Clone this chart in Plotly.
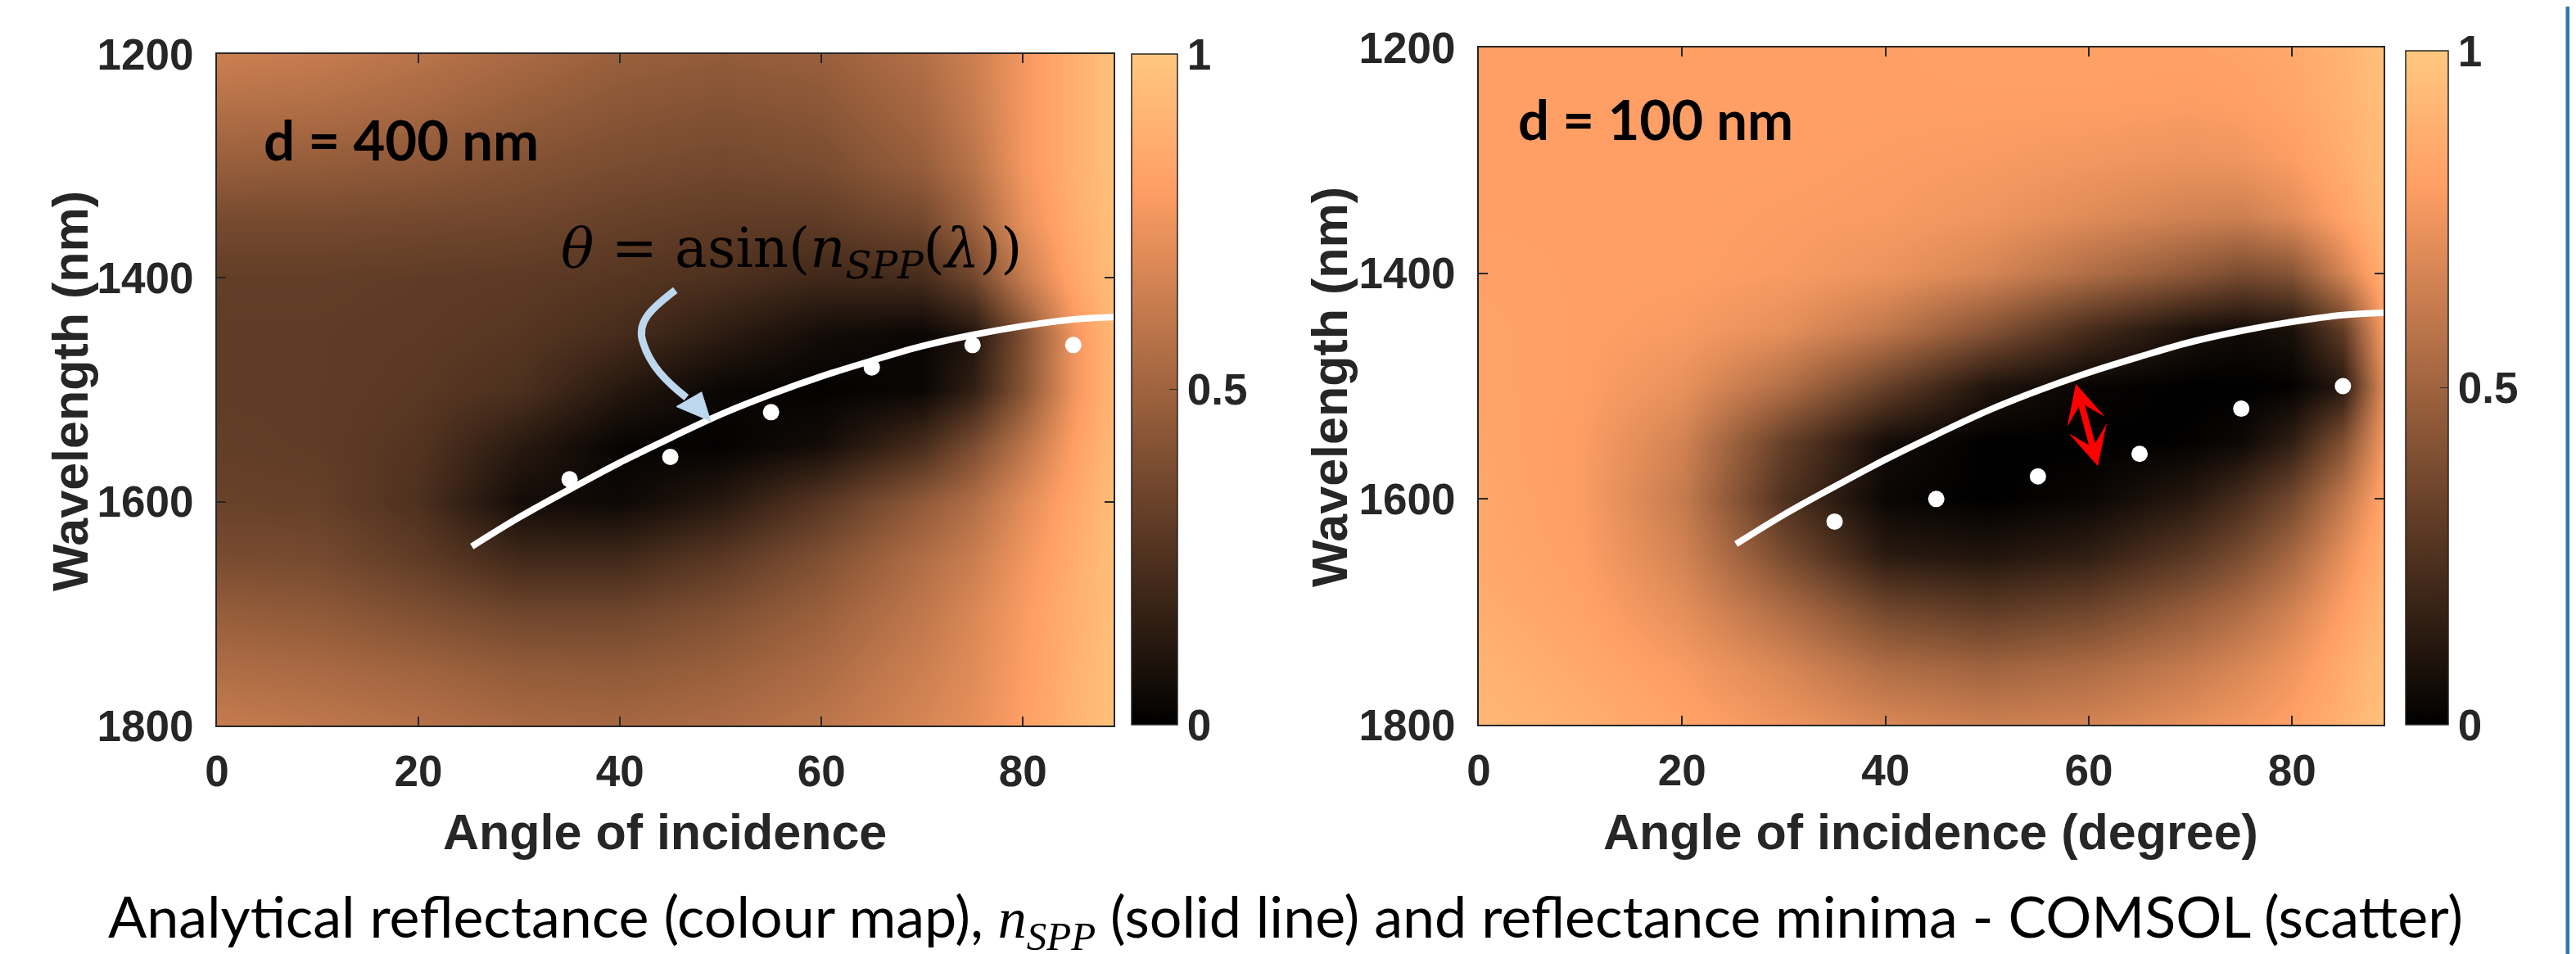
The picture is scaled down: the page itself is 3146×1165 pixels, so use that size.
import plotly.graph_objects as go

W, H = 3146, 1165

# ---------------- data ----------------
angle_grid = [0, 10, 20, 30, 40, 50, 60, 70, 75, 80, 85, 89]
wl_grid = [1200, 1250, 1300, 1350, 1400, 1450, 1500, 1550, 1600, 1650, 1700, 1750, 1800]

# analytical reflectance, d = 400 nm (rows: wavelength, cols: angle)
refl_400 = [
    [0.64, 0.62, 0.58, 0.53, 0.48, 0.46, 0.48, 0.56, 0.64, 0.76, 0.88, 0.97],
    [0.56, 0.55, 0.52, 0.47, 0.43, 0.41, 0.43, 0.52, 0.62, 0.76, 0.88, 0.97],
    [0.47, 0.46, 0.44, 0.41, 0.38, 0.36, 0.38, 0.47, 0.58, 0.76, 0.88, 0.97],
    [0.37, 0.37, 0.36, 0.35, 0.32, 0.30, 0.30, 0.36, 0.50, 0.72, 0.87, 0.96],
    [0.31, 0.31, 0.30, 0.29, 0.27, 0.24, 0.20, 0.22, 0.35, 0.62, 0.84, 0.95],
    [0.30, 0.30, 0.29, 0.27, 0.22, 0.14, 0.06, 0.03, 0.10, 0.40, 0.75, 0.93],
    [0.30, 0.30, 0.28, 0.24, 0.12, 0.03, 0.01, 0.03, 0.15, 0.42, 0.75, 0.92],
    [0.31, 0.30, 0.26, 0.13, 0.02, 0.01, 0.06, 0.22, 0.38, 0.58, 0.80, 0.93],
    [0.33, 0.32, 0.24, 0.06, 0.04, 0.12, 0.27, 0.45, 0.55, 0.70, 0.84, 0.95],
    [0.38, 0.37, 0.30, 0.20, 0.20, 0.28, 0.40, 0.55, 0.63, 0.75, 0.87, 0.96],
    [0.47, 0.45, 0.40, 0.35, 0.35, 0.40, 0.48, 0.60, 0.68, 0.78, 0.88, 0.96],
    [0.55, 0.53, 0.50, 0.46, 0.45, 0.48, 0.54, 0.64, 0.70, 0.79, 0.89, 0.97],
    [0.62, 0.60, 0.57, 0.53, 0.52, 0.54, 0.59, 0.67, 0.72, 0.80, 0.90, 0.97],
]

# analytical reflectance, d = 100 nm
refl_100 = [
    [0.80, 0.80, 0.80, 0.80, 0.80, 0.81, 0.81, 0.81, 0.82, 0.85, 0.90, 0.97],
    [0.80, 0.80, 0.80, 0.80, 0.80, 0.80, 0.80, 0.79, 0.80, 0.83, 0.89, 0.96],
    [0.80, 0.80, 0.80, 0.80, 0.79, 0.78, 0.76, 0.74, 0.75, 0.79, 0.87, 0.95],
    [0.80, 0.80, 0.80, 0.79, 0.78, 0.75, 0.70, 0.65, 0.64, 0.70, 0.82, 0.93],
    [0.81, 0.80, 0.80, 0.78, 0.74, 0.67, 0.55, 0.44, 0.38, 0.42, 0.66, 0.88],
    [0.82, 0.80, 0.78, 0.72, 0.60, 0.42, 0.22, 0.08, 0.05, 0.08, 0.30, 0.78],
    [0.82, 0.80, 0.73, 0.56, 0.32, 0.10, 0.02, 0.00, 0.00, 0.01, 0.12, 0.70],
    [0.83, 0.79, 0.66, 0.32, 0.06, 0.00, 0.00, 0.01, 0.04, 0.15, 0.40, 0.76],
    [0.84, 0.79, 0.62, 0.25, 0.03, 0.00, 0.03, 0.12, 0.22, 0.36, 0.60, 0.83],
    [0.85, 0.80, 0.66, 0.38, 0.13, 0.10, 0.15, 0.28, 0.38, 0.52, 0.72, 0.88],
    [0.87, 0.82, 0.72, 0.55, 0.36, 0.30, 0.35, 0.47, 0.55, 0.66, 0.80, 0.92],
    [0.90, 0.85, 0.78, 0.68, 0.55, 0.50, 0.54, 0.62, 0.68, 0.75, 0.86, 0.95],
    [0.92, 0.88, 0.82, 0.75, 0.68, 0.64, 0.66, 0.72, 0.76, 0.81, 0.89, 0.97],
]

# n_SPP curve: theta = asin(n_SPP(lambda))
nspp_angle = [25.3, 30, 35, 40, 45, 50, 55, 60, 65, 70, 75, 80, 85, 89]
nspp_wl = [1640, 1614, 1589, 1565, 1543, 1522, 1504, 1488, 1474, 1461, 1451, 1443, 1437, 1435]

# COMSOL reflectance minima
comsol_angle = [35, 45, 55, 65, 75, 85]
comsol_wl_400 = [1580, 1560, 1520, 1480, 1460, 1460]
comsol_wl_100 = [1620, 1600, 1580, 1560, 1520, 1500]

x_ticks = [0, 20, 40, 60, 80]
y_ticks = [1200, 1400, 1600, 1800]
cbar_ticks = [0, 0.5, 1]
cbar_labels = ["0", "0.5", "1"]

# ---------------- styling ----------------
copper = [[0.0, "rgb(0,0,0)"], [0.8, "rgb(255,159,101)"], [1.0, "rgb(255,199,127)"]]
INK = "#262626"
AX_FONT = dict(family="Liberation Sans, Arial", size=53, color=INK, weight="bold")
TITLE_FONT = dict(family="Liberation Sans, Arial", size=61, color=INK, weight="bold")


def px_dom(a, b, total):
    return [a / total, b / total]


def ydom(top, bottom):
    return [1 - bottom / H, 1 - top / H]


fig = go.Figure()

panels = [
    dict(z=refl_400, wl=comsol_wl_400, xa="x", ya="y",
         xdom=px_dom(257, 1352, W), ydom=ydom(58, 878),
         cb_x=1374 / W, cb_th=56, cb_top=58),
    dict(z=refl_100, wl=comsol_wl_100, xa="x2", ya="y2",
         xdom=px_dom(1798, 2903, W), ydom=ydom(50, 877),
         cb_x=2930 / W, cb_th=52, cb_top=54),
]

for p in panels:
    fig.add_trace(go.Heatmap(
        x=angle_grid, y=wl_grid, z=p["z"], zmin=0, zmax=1,
        colorscale=copper, zsmooth="best", xaxis=p["xa"], yaxis=p["ya"],
        colorbar=dict(
            x=p["cb_x"], xanchor="left", y=1 - 877 / H, yanchor="bottom",
            len=(877 - p["cb_top"]) / H, lenmode="fraction",
            thickness=p["cb_th"], thicknessmode="pixels",
            outlinecolor=INK, outlinewidth=1.5, xpad=0, ypad=0,
            tickvals=cbar_ticks, ticktext=cbar_labels, ticks="inside",
            ticklen=10, tickcolor=INK, tickfont=AX_FONT,
        ),
        hoverinfo="skip",
    ))
    fig.add_trace(go.Scatter(
        x=nspp_angle, y=nspp_wl, mode="lines",
        line=dict(color="white", width=8, shape="spline"),
        xaxis=p["xa"], yaxis=p["ya"], showlegend=False, hoverinfo="skip",
    ))
    fig.add_trace(go.Scatter(
        x=comsol_angle, y=p["wl"], mode="markers",
        marker=dict(color="white", size=20, line=dict(width=0)),
        xaxis=p["xa"], yaxis=p["ya"], showlegend=False, hoverinfo="skip",
    ))

axis_common = dict(
    showline=True, linecolor=INK, linewidth=2, mirror="ticks",
    ticks="inside", ticklen=11, tickwidth=2, tickcolor=INK,
    tickfont=AX_FONT, showgrid=False, zeroline=False, automargin=False,
)

fig.update_layout(
    width=W, height=H, margin=dict(l=0, r=0, t=0, b=0, autoexpand=False),
    paper_bgcolor="white", plot_bgcolor="white", showlegend=False,
    xaxis=dict(domain=panels[0]["xdom"], anchor="y", range=[0, 89],
               tickvals=x_ticks, ticklabelstandoff=8, **axis_common),
    yaxis=dict(domain=panels[0]["ydom"], anchor="x", range=[1800, 1200],
               tickvals=y_ticks, ticklabelstandoff=16, **axis_common),
    xaxis2=dict(domain=panels[1]["xdom"], anchor="y2", range=[0, 89],
                tickvals=x_ticks, ticklabelstandoff=8, **axis_common),
    yaxis2=dict(domain=panels[1]["ydom"], anchor="x2", range=[1800, 1200],
                tickvals=y_ticks, ticklabelstandoff=16, **axis_common),
)

annotations = [
    # axis titles
    dict(text="Angle of incidence", x=804 / W, y=1 - 1008 / H, xref="paper", yref="paper",
         showarrow=False, font=TITLE_FONT, xanchor="center", yanchor="middle"),
    dict(text="Angle of incidence (degree)", x=2350 / W, y=1 - 1008 / H, xref="paper", yref="paper",
         showarrow=False, font=TITLE_FONT, xanchor="center", yanchor="middle"),
    dict(text="Wavelength (nm)", x=78 / W, y=1 - 470 / H, xref="paper", yref="paper",
         showarrow=False, font=TITLE_FONT, textangle=-90, xanchor="center", yanchor="middle"),
    dict(text="Wavelength (nm)", x=1616 / W, y=1 - 464 / H, xref="paper", yref="paper",
         showarrow=False, font=TITLE_FONT, textangle=-90, xanchor="center", yanchor="middle"),
    # panel labels
    dict(text="d = 400 nm", x=4.5, y=1276, xref="x", yref="y", showarrow=False,
         xanchor="left", yanchor="middle",
         font=dict(family="Lato", size=67, color="black", weight="bold")),
    dict(text="d = 100 nm", x=3.7, y=1263, xref="x2", yref="y2", showarrow=False,
         xanchor="left", yanchor="middle",
         font=dict(family="Lato", size=67, color="black", weight="bold")),
    # equation
    dict(text="<i>θ</i> = asin(<i>n</i><sub><i>SPP</i></sub>(<i>λ</i>))",
         x=34.0, y=1377, xref="x", yref="y", showarrow=False,
         xanchor="left", yanchor="middle",
         font=dict(family="DejaVu Serif", size=67, color="black")),
    # red double arrow
    dict(x=60.9, y=1571, ax=58.7, ay=1497, xref="x2", yref="y2", axref="x2", ayref="y2",
         showarrow=True, arrowhead=3, startarrowhead=3, arrowside="end+start",
         arrowsize=1.0, startarrowsize=1.0, arrowwidth=8, arrowcolor="#FF0000", text=""),
    # caption
    dict(text="Analytical reflectance (colour map), "
              "<span style='font-family:Liberation Serif'><i>n</i><sub><i>SPP</i></sub></span>"
              " (solid line) and reflectance minima - COMSOL (scatter)",
         x=1562 / W, y=1 - 1115 / H, xref="paper", yref="paper", showarrow=False,
         xanchor="center", yanchor="middle",
         font=dict(family="Lato", size=70, color="black")),
]
fig.update_layout(annotations=annotations)

# light-blue curved pointer arrow (decoration) in data coordinates of panel 1
fig.add_shape(type="path", xref="x", yref="y",
              path="M 45.5,1411 C 43.0,1428 41.6,1440 42.3,1458 C 43.0,1478 44.5,1492 46.6,1507",
              line=dict(color="#BDD7EE", width=9))
fig.add_shape(type="path", xref="x", yref="y",
              path="M 49.0,1528 L 45.6,1515 L 48.1,1502 Z",
              fillcolor="#BDD7EE", line=dict(color="#BDD7EE", width=1))

# slide border line on right
fig.add_shape(type="line", xref="paper", yref="paper", x0=3128 / W, x1=3128 / W, y0=0, y1=1,
              line=dict(color="rgb(46,117,182)", width=5))

fig.write_html("out.html")
